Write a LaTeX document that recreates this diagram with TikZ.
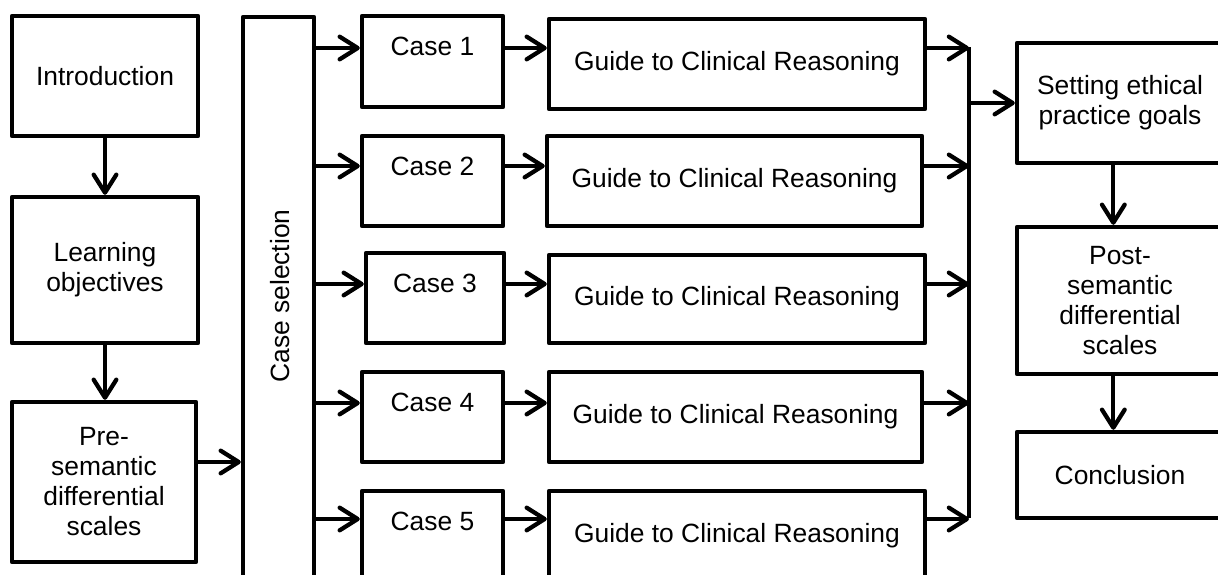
\documentclass[tikz,border=0pt]{standalone}
\usepackage{fontspec}
\setmainfont{Liberation Sans}
\usetikzlibrary{arrows.meta}

\tikzset{
  box/.style={draw, line width=3.3pt, line join=round, inner sep=0pt, align=center,
    font=\fontsize{19.8}{22.5}\selectfont},
  arr/.style={line width=3.2pt, -{Straight Barb[length=13.5pt, width=17pt, round]}},
  ln/.style={line width=3.3pt}
}

\begin{document}
\begin{tikzpicture}[x=0.75pt, y=-0.75pt]
			%%%%% START %%%%%
			\useasboundingbox (0,0) rectangle (1218,575);
			\clip (0,0) rectangle (1218,575);
			
			% left column
			\node[box, minimum width=139.5pt, minimum height=90pt] (intro) at (105,76) {Introduction};
			\node[box, minimum width=139.5pt, minimum height=109.5pt] (learn) at (105,270) {Learning\\objectives};
			\node[box, minimum width=138pt, minimum height=120pt] (pre) at (104,482) {Pre-\\semantic\\differential\\scales};
			
			\draw[arr] (intro.south) -- (learn.north);
			\draw[arr] (learn.south) -- (learn.south |- pre.north);
			
			% case selection
			\node[box, minimum width=53.25pt, minimum height=420.75pt] (csel) at (278.5,297.5) {};
			\node[rotate=90, font=\fontsize{19.8}{22.5}\selectfont] (cseltxt) at (280,296) {Case selection};
			
			\coordinate (pin) at (0,462);
			\draw[arr] (pre.east |- pin) -- (csel.west |- pin);
			
			% rows
			\coordinate (r1) at (0,48);
			\coordinate (r2) at (0,166);
			\coordinate (r3) at (0,284);
			\coordinate (r4) at (0,403);
			\coordinate (r5) at (0,519);
			
			\node[box, minimum width=105.75pt, minimum height=68.25pt] (c1) at (432.5,61.5) {Case 1\\\mbox{}};
			\node[box, minimum width=105.75pt, minimum height=67.5pt] (c2) at (432.5,181) {Case 2\\\mbox{}};
			\node[box, minimum width=103.5pt, minimum height=67.5pt] (c3) at (435,298) {Case 3\\\mbox{}};
			\node[box, minimum width=105.75pt, minimum height=67.5pt] (c4) at (432.5,417) {Case 4\\\mbox{}};
			\node[box, minimum width=105.75pt, minimum height=67.5pt] (c5) at (432.5,536) {Case 5\\\mbox{}};
			
			\node[box, minimum width=282pt, minimum height=67.5pt] (g1) at (737,64) {Guide to Clinical Reasoning};
			\node[box, minimum width=281.25pt, minimum height=67.5pt] (g2) at (734.5,181) {Guide to Clinical Reasoning};
			\node[box, minimum width=282pt, minimum height=66pt] (g3) at (737,299) {Guide to Clinical Reasoning};
			\node[box, minimum width=279.75pt, minimum height=67.5pt] (g4) at (735.5,417) {Guide to Clinical Reasoning};
			\node[box, minimum width=282pt, minimum height=67.5pt] (g5) at (737,536) {Guide to Clinical Reasoning};
			
			\draw[arr] (csel.east |- r1) -- (c1.west |- r1);
			\draw[arr] (csel.east |- r2) -- (c2.west |- r2);
			\draw[arr] (csel.east |- r3) -- (c3.west |- r3);
			\draw[arr] (csel.east |- r4) -- (c4.west |- r4);
			\draw[arr] (csel.east |- r5) -- (c5.west |- r5);
			
			\draw[arr] (c1.east |- r1) -- (g1.west |- r1);
			\draw[arr] (c2.east |- r2) -- (g2.west |- r2);
			\draw[arr] (c3.east |- r3) -- (g3.west |- r3);
			\draw[arr] (c4.east |- r4) -- (g4.west |- r4);
			\draw[arr] (c5.east |- r5) -- (g5.west |- r5);
			
			% merge line
			\coordinate (mtop) at (969,47);
			\coordinate (mbot) at (969,518);
			\draw[ln] (mtop) -- (mbot);
			
			\draw[arr] (g1.east |- r1) -- (mtop |- r1);
			\draw[arr] (g2.east |- r2) -- (mtop |- r2);
			\draw[arr] (g3.east |- r3) -- (mtop |- r3);
			\draw[arr] (g4.east |- r4) -- (mtop |- r4);
			\draw[arr] (g5.east |- r5) -- (mtop |- r5);
			
			% right column
			\node[box, minimum width=154.5pt, minimum height=90pt] (goals) at (1120,103) {Setting ethical\\practice goals};
			\node[box, minimum width=154.5pt, minimum height=110.25pt] (post) at (1120,300.5) {Post-\\semantic\\differential\\scales};
			\node[box, minimum width=154.5pt, minimum height=64.5pt] (concl) at (1120,475) {Conclusion};
			
			\draw[arr] (mtop |- goals.west) -- (goals.west);
			\draw[arr] ([xshift=-5pt]goals.south) -- ([xshift=-5pt]post.north);
			\draw[arr] ([xshift=-5pt]post.south) -- ([xshift=-5pt]concl.north);
			
			%%%%% END %%%%%
\end{tikzpicture}
\end{document}
